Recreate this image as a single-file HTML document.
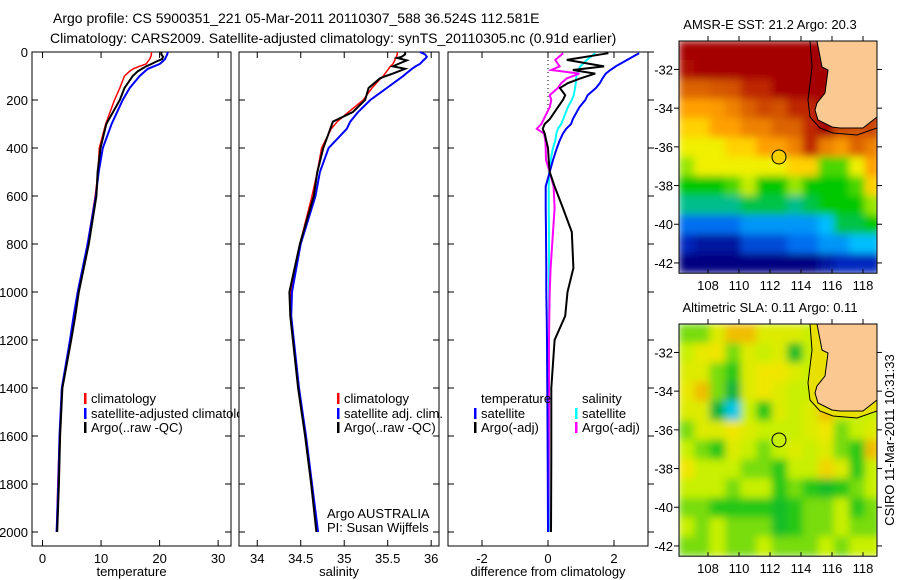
<!DOCTYPE html>
<html><head><meta charset="utf-8"><style>
body{margin:0;background:#fff}
svg{display:block;font-family:"Liberation Sans",sans-serif}
</style></head><body>
<svg id="c" width="900" height="580" viewBox="0 0 900 580">
<defs><filter id="blur" x="0" y="0" width="1" height="1"><feGaussianBlur stdDeviation="4" edgeMode="duplicate"/></filter></defs>
<text x="53" y="23" font-size="14">Argo profile: CS 5900351_221 05-Mar-2011 20110307_588 36.524S 112.581E</text>
<text x="50" y="43" font-size="14">Climatology: CARS2009. Satellite-adjusted climatology: synTS_20110305.nc (0.91d earlier)</text>
</svg>
<script>
// ---------- data ----------
const tDepth=[0,10,20,30,40,50,60,70,80,100,150,200,300,400,500,600,800,1000,1100,1200,1400,1600,1800,2000];
const tClim=[18.6,18.6,18.5,18.3,18.0,17.7,16.5,15.5,14.9,14.0,13.2,12.3,10.8,9.7,9.5,9.0,7.7,6.0,5.4,4.8,3.3,2.9,2.6,2.4];
const tSat=[21.4,21.3,21.1,20.9,20.5,20.0,19.0,18.0,17.5,16.6,14.9,13.7,11.8,10.3,9.6,9.1,7.7,6.0,5.3,4.7,3.3,2.9,2.7,2.4];
const tArgo=[20.3,20.3,20.6,20.4,19.4,18.6,17.7,17.0,16.3,15.4,14.0,13.2,10.9,9.9,9.4,9.2,7.9,6.2,5.6,4.9,3.4,3.0,2.8,2.5];
const sDepth=[0,10,20,25,35,50,60,70,90,100,110,150,200,250,290,320,400,500,600,800,1000,1100,1200,1400,1600,1800,2000];
const sClim=[35.61,35.61,35.6,35.59,35.58,35.56,35.53,35.51,35.47,35.45,35.42,35.32,35.22,35.05,34.92,34.85,34.74,34.69,34.63,34.49,34.39,34.38,34.41,34.47,34.55,34.62,34.68];
const sSat=[35.87,35.93,35.95,35.94,35.91,35.87,35.82,35.78,35.71,35.68,35.64,35.49,35.30,35.16,35.07,35.03,34.82,34.72,34.67,34.5,34.4,34.39,34.42,34.48,34.56,34.63,34.7];
const sArgo=[35.70,35.70,35.66,35.61,35.72,35.62,35.56,35.70,35.56,35.48,35.41,35.28,35.24,35.10,34.87,34.84,34.76,34.69,34.65,34.49,34.37,34.38,34.41,34.47,34.55,34.62,34.68];
const dDepth=[5,33,60,75,90,110,130,150,180,200,230,280,300,320,340,370,400,450,500,560,650,750,900,1000,1100,1200,1400,1700,2000];
const dTSat=[2.76,2.4,2.05,1.89,1.75,1.65,1.57,1.45,1.2,1.13,0.95,0.75,0.7,0.55,0.45,0.35,0.27,0.15,0.05,-0.07,-0.07,-0.06,-0.05,-0.05,-0.04,-0.03,-0.02,-0.01,0.0];
const dTArgo=[1.83,0.57,1.7,0.75,1.43,0.98,0.6,0.36,0.52,0.45,0.3,0.05,-0.1,-0.16,-0.1,-0.05,0.0,0.02,0.05,0.2,0.45,0.72,0.77,0.59,0.52,0.2,0.1,0.1,0.09];
const dSSat=[1.43,1.18,0.98,0.92,0.88,0.85,0.84,0.82,0.78,0.72,0.6,0.46,0.4,0.3,0.25,0.22,0.15,0.08,0.04,0.02,0.02,0.03,0.03,0.03,0.03,0.03,0.03,0.03,0.03];
const dSArgo=[0.46,0.22,0.35,0.1,0.95,0.57,0.4,0.3,0.05,0.1,0.05,-0.13,-0.2,-0.34,-0.12,-0.08,-0.07,-0.06,0.05,0.17,0.2,0.15,0.08,0.05,0.04,0.03,0.03,0.02,0.01];
const tTicks=[0,10,20,30], sTicks=[34,34.5,35,35.5,36], dTicks=[-2,0,2], depthTicks=[0,200,400,600,800,1000,1200,1400,1600,1800,2000];
const sst=[
[22,22,22,22,22,22,22,22,22,22,22,22,22],
[21.8,22,22,22,22,22,22,22,22,22,22,22,22],
[20.5,20.5,20.7,20.8,21.5,21.5,22,22,22,22,22,22,22],
[19.5,19.5,19.6,20,20.5,21,20.8,21.5,21.5,22,22,22,22],
[19,19,19.5,19.5,20,20,20.5,20.5,21.5,22,21,20.8,21],
[18.5,18.5,18.5,19,19,19.5,19.5,20,21.5,20,19.6,20.5,20],
[17.5,18.5,18.5,18.5,18.5,18.5,18.5,19,19,17,17,18.5,19.5],
[16.5,16.5,16.5,17,18,16.5,16.5,17.5,16.5,16.5,16.5,17,19],
[15.5,15.5,15.5,15.5,16,16,16,15.5,16,16.5,16.5,16.5,17.5],
[14,14,14,14,14.5,14.5,14.5,14.5,14.5,15,16,16,16.5],
[13,12.5,12.5,12.5,13.5,13.5,13.5,14,14,14.5,14.5,15,15],
[12,12,12,12,12,12,12,12,12,12.5,13,13,13]];
const sla=[
[-0.05,-0.05,0.05,0.15,0.15,0.05,0.05,0.05,0,0.15,0,0,0],
[0,0.08,0.1,-0.05,0.05,0,0.05,-0.15,0,0.05,0,0,0],
[0.05,0.05,-0.05,-0.1,0.05,0.1,0.1,0.05,0,0.05,0,0,0],
[0.08,0.15,-0.05,-0.2,0.05,0.1,0.05,0,0,0.05,0,0,0],
[0.05,0.05,-0.2,-0.3,0,-0.1,0.05,0,0.05,0.15,0.05,0,0],
[-0.05,0.05,0.05,0.1,0.05,0,0,0,0.05,0.1,-0.05,0,0.05],
[0,-0.05,-0.1,0.05,0,-0.05,0,0.05,0,0.05,-0.05,-0.1,0.15],
[0.1,0,0,0,-0.05,-0.05,-0.1,0,0,0.12,0.05,-0.1,0],
[0,0,0,-0.05,0,0,-0.1,-0.05,-0.1,-0.15,-0.1,-0.05,0],
[-0.05,-0.05,-0.1,-0.1,-0.1,-0.1,-0.15,-0.1,-0.05,-0.05,0,-0.1,-0.05],
[0,-0.05,0,-0.05,-0.05,-0.05,-0.15,-0.1,-0.05,-0.05,0,-0.05,-0.05],
[-0.05,-0.05,0,-0.05,-0.05,0,-0.05,-0.05,-0.05,0,-0.05,0,0]];
const lonTicks=[108,110,112,114,116,118], latTicks=[-32,-34,-36,-38,-40,-42];
const argoLon=112.581, argoLat=-36.524;

// ---------- helpers ----------
const svg=document.getElementById('c');
const NS='http://www.w3.org/2000/svg';
function mk(tag,attrs,parent){const e=document.createElementNS(NS,tag);for(const k in attrs)e.setAttribute(k,attrs[k]);(parent||svg).appendChild(e);return e;}
function txt(x,y,s,size,anchor,parent){const e=mk('text',{x:x,y:y,'font-size':size,'text-anchor':anchor||'start'},parent);e.textContent=s;return e;}
const top0=52, pxm=0.24, axBottom=546;
const yD=d=>top0+d*pxm;

function panel(name,x0,x1,v0,v1,ticks,label,showY,outRight){
  const g=mk('g',{});
  
  
  const sx=v=>x0+(v-v0)/(v1-v0)*(x1-x0);
  mk('rect',{x:x0,y:top0,width:x1-x0,height:axBottom-top0,fill:'#fff',stroke:'#000','stroke-width':1},g);
  ticks.forEach(t=>{const x=sx(t);
    mk('line',{x1:x,x2:x,y1:axBottom,y2:axBottom-6,stroke:'#000'},g);
    mk('line',{x1:x,x2:x,y1:top0,y2:top0+6,stroke:'#000'},g);
    const l=txt(x,563,String(t),13,'middle',g);
    
    
  });
  depthTicks.forEach(d=>{const y=yD(d);
    if(outRight){mk('line',{x1:x1,x2:x1+6,y1:y,y2:y,stroke:'#000'},g);}
    else{mk('line',{x1:x1,x2:x1-6,y1:y,y2:y,stroke:'#000'},g);}
    mk('line',{x1:x0,x2:x0+6,y1:y,y2:y,stroke:'#000'},g);
    if(showY){const l=txt(x0-4,y+5,String(d),13,'end',g);
      
      }
  });
  const a=txt((x0+x1)/2,576,label,13,'middle',g);
  
  
  return sx;
}
function line(sx,depths,vals,color,w,name){
  const p=depths.map((d,i)=>sx(vals[i]).toFixed(1)+','+yD(d).toFixed(1)).join(' ');
  const e=mk('polyline',{points:p,fill:'none',stroke:color,'stroke-width':w});
  
  
}
function legend(x,y,color,label,name){
  const g=mk('g',{});
  
  
  if(color)mk('rect',{x:x,y:y-10,width:2.5,height:11,fill:color},g);
  txt(x+7,y,label,13,'start',g);
}

const sxT=panel('temperature-panel',32,231,-1.8,32.2,tTicks,'temperature',true,false);
line(sxT,tDepth,tClim,'#f00',1.5,'temperature-climatology-line');
line(sxT,tDepth,tSat,'#00f',2,'temperature-satellite-line');
line(sxT,tDepth,tArgo,'#000',2,'temperature-argo-line');
legend(84,403,'#f00','climatology','legend-climatology');
legend(84,418,'#00f','satellite-adjusted climatology','legend-satellite-adjusted');
legend(84,432,'#000','Argo(..raw -QC)','legend-argo');

const sxS=panel('salinity-panel',239,439,33.79,36.09,sTicks,'salinity',false,false);
line(sxS,sDepth,sClim,'#f00',1.5,'salinity-climatology-line');
line(sxS,sDepth,sSat,'#00f',2,'salinity-satellite-line');
line(sxS,sDepth,sArgo,'#000',2,'salinity-argo-line');
legend(337,403,'#f00','climatology','legend-climatology-sal');
legend(337,418,'#00f','satellite adj. clim.','legend-satellite-sal');
legend(337,432,'#000','Argo(..raw -QC)','legend-argo-sal');
txt(327,518,'Argo AUSTRALIA',13);
txt(327,532,'PI: Susan Wijffels',13);

const sxD=panel('difference-panel',448,648,-3.03,3.03,dTicks,'difference from climatology',false,true);
mk('line',{x1:sxD(0),x2:sxD(0),y1:top0,y2:110,stroke:'#000','stroke-dasharray':'1,3'});
line(sxD,dDepth,dSSat,'#0ff',2,'diff-salinity-satellite-line');
line(sxD,dDepth,dSArgo,'#f0f',2,'diff-salinity-argo-line');
line(sxD,dDepth,dTSat,'#00f',2,'diff-temperature-satellite-line');
line(sxD,dDepth,dTArgo,'#000',2,'diff-temperature-argo-line');
legend(474,403,null,'temperature','legend-temperature-header');
legend(474,418,'#00f','satellite','legend-temp-satellite');
legend(474,432,'#000','Argo(-adj)','legend-temp-argo');
legend(575,403,null,'salinity','legend-salinity-header');
legend(575,418,'#0ff','satellite','legend-sal-satellite');
legend(575,432,'#f0f','Argo(-adj)','legend-sal-argo');

// ---------- maps ----------
function rgb(a){return 'rgb('+a.map(Math.round).join(',')+')';}
function interp(stops,v){
  if(v<=stops[0][0])return rgb(stops[0][1]);
  for(let i=1;i<stops.length;i++){if(v<=stops[i][0]){const a=stops[i-1],b=stops[i],t=(v-a[0])/(b[0]-a[0]);
    return rgb([0,1,2].map(k=>a[1][k]+(b[1][k]-a[1][k])*t));}}
  return rgb(stops[stops.length-1][1]);
}
const sstStops=[[12,[0,0,128]],[13,[0,40,190]],[14,[0,110,240]],[15,[0,190,255]],[15.5,[0,190,140]],[16.5,[0,200,0]],[17.5,[150,230,0]],[18.5,[240,240,0]],[19,[255,210,0]],[19.5,[255,160,0]],[20.5,[220,100,0]],[21.5,[190,40,0]],[22,[165,0,0]]];
const slaStops=[[-0.3,[0,200,230]],[-0.2,[0,180,60]],[-0.1,[40,200,20]],[0,[200,240,0]],[0.1,[240,230,0]],[0.2,[240,150,0]]];
function map(name,yTop,grid,stops,title,dotFill,shelfFill){
  const g=mk('g',{});
  
  
  const x0=679,x1=877,lon0=106.13,plx=15.5,ply=19.35,lat0=-30.53;
  const sx=l=>x0+(l-lon0)*plx, sy=l=>yTop+(lat0-l)*ply;
  const clip=mk('clipPath',{id:'clip'+name},g);
  mk('rect',{x:x0,y:yTop,width:x1-x0,height:sy(-42.53)-yTop},clip);
  const cg=mk('g',{'clip-path':'url(#clip'+name+')'},g);
  const bg=mk('g',{filter:'url(#blur)'},cg);
  grid.forEach((row,r)=>row.forEach((v,c)=>{
    const cell=mk('rect',{x:sx(lon0+c)-0.3,y:sy(lat0-r)-0.3,width:plx+0.6,height:ply+0.6,fill:interp(stops,v)},bg);
    
    
  }));
  const dy=yTop-41;
  const sh=s=>s.split(' ').map(p=>{const [a,b]=p.split(',');return a+','+(+b+dy);}).join(' ');
  const shelf='810,41 812,67 808,100 810,117 820,128 833,133 857,135 877,128 877,41';
  if(shelfFill)mk('polygon',{points:sh(shelf),fill:shelfFill,stroke:'none'},cg);
  mk('polyline',{points:sh('810,41 812,67 808,100 810,117 820,128 833,133 857,135 877,128'),fill:'none',stroke:'#000','stroke-width':1},cg);
  const land='817,41 822,67 828,70 825,93 817,103 815,110 818,120 832,127 840,128 863,128 877,117 877,41';
  const L=mk('polygon',{points:sh(land),fill:'#fcc891',stroke:'#000','stroke-width':1},cg);
  
  
  mk('rect',{x:x0,y:yTop,width:x1-x0,height:sy(-42.53)-yTop,fill:'none',stroke:'#000'},g);
  lonTicks.forEach(l=>{const x=sx(l);mk('line',{x1:x,x2:x,y1:yTop,y2:yTop-5,stroke:'#000'},g);
    mk('line',{x1:x,x2:x,y1:sy(-42.53),y2:sy(-42.53)-4,stroke:'#000'},g);
    txt(x,sy(-42.53)+17,String(l),13,'middle',g);});
  latTicks.forEach(l=>{const y=sy(l);mk('line',{x1:x0,x2:x0-5,y1:y,y2:y,stroke:'#000'},g);
    mk('line',{x1:x1,x2:x1+5,y1:y,y2:y,stroke:'#000'},g);
    txt(x0-6,y+5,String(l),13,'end',g);});
  const t=txt(770,yTop-12,title,13,'middle',g);
  
  
  const d=mk('circle',{cx:sx(argoLon),cy:sy(argoLat),r:7,fill:dotFill,stroke:'#000'},g);
  
  
}
map('sst-map',41,sst,sstStops,'AMSR-E SST: 21.2 Argo: 20.3','#f5d000',null);
map('sla-map',324,sla,slaStops,'Altimetric SLA: 0.11 Argo: 0.11','none','#e8e000');
const cs=txt(0,0,'CSIRO 11-Mar-2011 10:31:33',13,'middle');
cs.setAttribute('transform','translate(894,440) rotate(-90)');


</script>
</body></html>
